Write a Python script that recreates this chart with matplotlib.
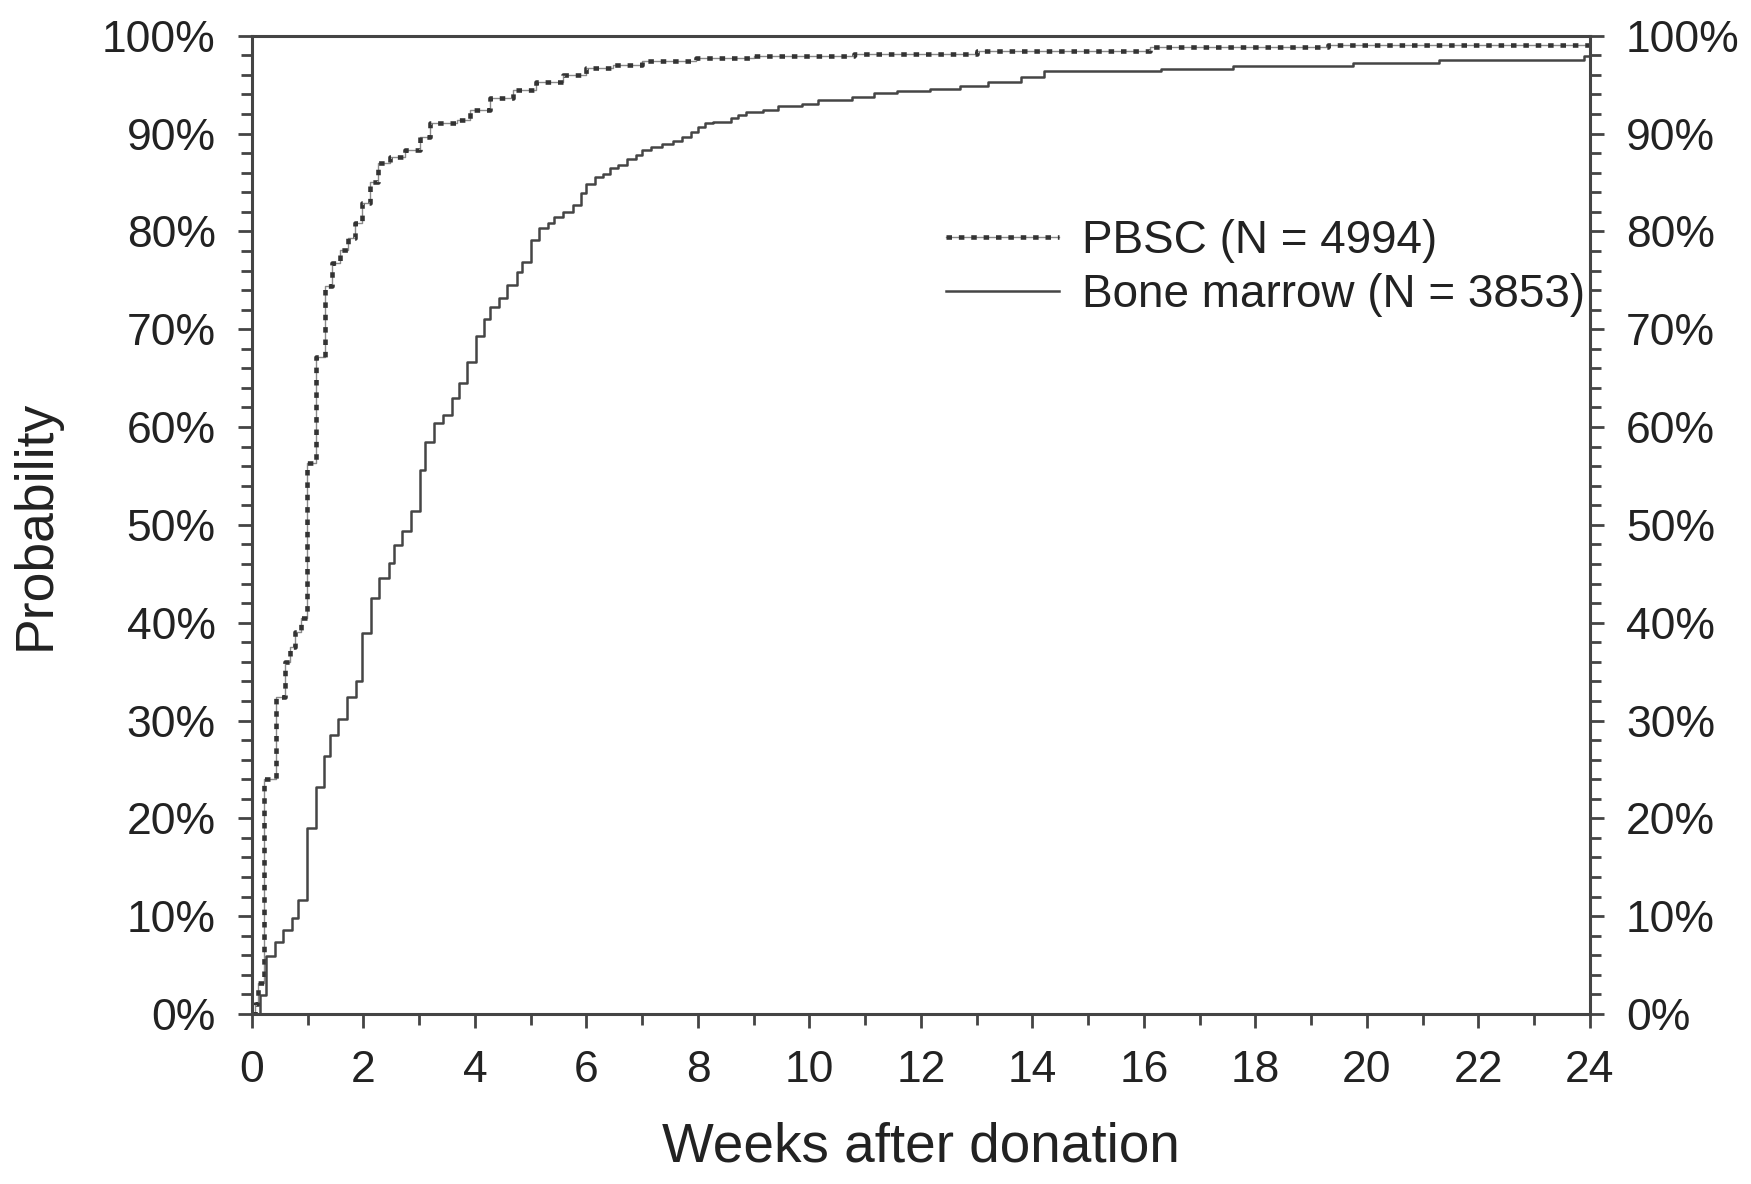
import numpy as np
import matplotlib
matplotlib.use("Agg")
import matplotlib.pyplot as plt
import matplotlib.ticker as mticker

plt.rcParams['font.family'] = ['Liberation Sans', 'DejaVu Sans']

# cumulative probability (%) after each step, step times in weeks
pbsc_weeks = [0, 0.05, 0.11, 0.21, 0.44, 0.59, 0.68, 0.78, 0.88, 0.98, 1.14, 1.31, 1.43,
              1.58, 1.72, 1.84, 1.97, 2.12, 2.26, 2.48, 2.74, 3.01, 3.19, 3.67, 3.91,
              4.27, 4.69, 5.10, 5.58, 6.00, 6.48, 7.00, 7.96, 9.0, 10.8, 13.0, 16.1,
              19.3, 24]
pbsc_prob = [0, 1.0, 3.2, 24.0, 32.4, 36.0, 37.5, 39.0, 40.5, 56.3, 67.2, 74.4, 76.8,
             78.1, 79.3, 80.9, 82.9, 85.0, 87.0, 87.6, 88.3, 89.7, 91.1, 91.4, 92.4,
             93.6, 94.5, 95.3, 96.0, 96.7, 97.0, 97.4, 97.7, 97.9, 98.1, 98.4, 98.8,
             99.1, 99.1]

bm_weeks = [0, 0.14, 0.26, 0.41, 0.56, 0.71, 0.83, 0.98, 1.14, 1.29, 1.40, 1.55, 1.71,
            1.87, 1.98, 2.14, 2.28, 2.45, 2.55, 2.70, 2.86, 3.02, 3.11, 3.27, 3.43,
            3.59, 3.71, 3.85, 4.01, 4.17, 4.27, 4.43, 4.58, 4.75, 4.84, 5.00, 5.15,
            5.31, 5.42, 5.58, 5.75, 5.90, 5.99, 6.15, 6.29, 6.42, 6.57, 6.73, 6.89,
            6.99, 7.15, 7.35, 7.55, 7.72, 7.88, 8.00, 8.12, 8.27, 8.60, 8.72, 8.87,
            9.17, 9.44, 9.86, 10.16, 10.76, 11.15, 11.57, 12.17, 12.7, 13.2, 13.8,
            14.2, 16.3, 17.6, 19.75, 21.3, 23.9, 24]
bm_prob = [0, 1.9, 5.9, 7.4, 8.6, 9.8, 11.7, 19.0, 23.2, 26.4, 28.5, 30.2, 32.4,
           34.0, 38.9, 42.5, 44.6, 46.1, 47.9, 49.4, 51.4, 55.6, 58.5, 60.4, 61.2,
           63.0, 64.5, 66.6, 69.3, 71.0, 72.3, 73.2, 74.5, 75.8, 76.9, 79.1, 80.3,
           80.9, 81.5, 82.0, 82.7, 83.9, 84.8, 85.6, 85.9, 86.5, 86.8, 87.4, 87.8,
           88.3, 88.6, 88.9, 89.2, 89.7, 90.2, 90.7, 91.1, 91.2, 91.6, 91.9, 92.2,
           92.4, 92.8, 93.0, 93.4, 93.7, 94.1, 94.4, 94.6, 94.9, 95.3, 95.8,
           96.35, 96.6, 96.9, 97.2, 97.5, 97.9, 97.9]

labels = ['PBSC (N = 4994)', 'Bone marrow (N = 3853)']

txt = '#222222'
axc = '#444444'

fig = plt.figure(figsize=(17.51, 11.84), dpi=100)
ax = fig.add_axes([0.1439, 0.1436, 0.908 - 0.1439, 0.9698 - 0.1436])

# PBSC: thin grey line with a chequered square dash on top
p_thin, = ax.step(pbsc_weeks, pbsc_prob, where='post', color='#8a8a8a', lw=1.0)
p_dash, = ax.step(pbsc_weeks, pbsc_prob, where='post', color='#333333', lw=3.3,
                  linestyle=(0, (1.2, 1.5)))
b_line, = ax.step(bm_weeks, bm_prob, where='post', color='#454545', lw=1.8)

ax.set_xlim(0, 24)
ax.set_ylim(0, 100)
ax.xaxis.set_major_locator(mticker.MultipleLocator(2))
ax.xaxis.set_minor_locator(mticker.MultipleLocator(1))
ax.yaxis.set_major_locator(mticker.MultipleLocator(10))
ax.yaxis.set_minor_locator(mticker.MultipleLocator(2))
ax.yaxis.set_major_formatter(mticker.PercentFormatter(decimals=0))

for s in ax.spines.values():
    s.set_linewidth(2.2)
    s.set_color(axc)

ax.tick_params(axis='y', which='both', left=True, right=True, labelleft=True,
               labelright=True, direction='out', color=axc, width=2.0)
ax.tick_params(axis='x', which='both', top=False, direction='out', color=axc, width=2.0)
ax.tick_params(which='major', length=10, labelsize=32, labelcolor=txt, pad=16)
ax.tick_params(which='minor', length=8)

ax.set_xlabel('Weeks after donation', fontsize=39.5, color=txt, labelpad=22)
ax.set_ylabel('Probability', fontsize=38.5, color=txt, labelpad=30)

ax.legend([(p_thin, p_dash), b_line], labels, loc='upper left',
          bbox_to_anchor=(0.519, 0.813), frameon=False, fontsize=33,
          handlelength=2.45, handletextpad=0.52, borderpad=0, borderaxespad=0,
          labelspacing=0.22, labelcolor=txt)

fig.savefig('out.png', dpi=100)
